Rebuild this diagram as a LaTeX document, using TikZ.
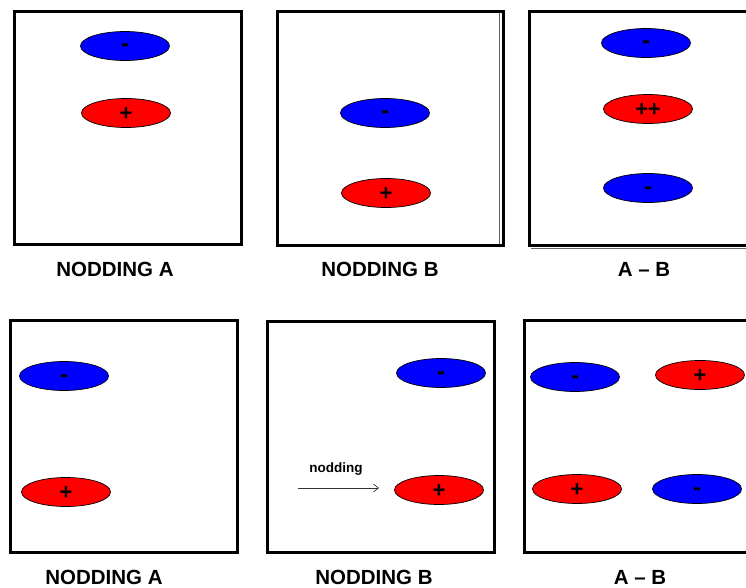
\documentclass[tikz,border=0pt]{standalone}
\usepackage{fontspec}
\setmainfont{Liberation Sans}
\usepackage{tikz}
\usepackage{xcolor}
\usetikzlibrary{shapes.geometric,arrows.meta}

\begin{document}
\begin{tikzpicture}[x=1pt,y=-1pt,
    negnode/.style={ellipse, draw=black, fill=blue, line width=0.7pt, minimum width=89pt, minimum height=29pt, inner sep=0pt, text height=12pt, text depth=0pt, font=\fontsize{24}{24}\selectfont\bfseries},
    posnode/.style={ellipse, draw=black, fill=red, line width=0.7pt, minimum width=89pt, minimum height=29pt, inner sep=0pt, text height=15.2pt, text depth=0pt, font=\fontsize{22}{22}\selectfont\bfseries},
    frame/.style={draw=black, line width=3pt},
    lbl/.style={font=\fontsize{20.5}{24}\selectfont\bfseries}]
            \useasboundingbox (0,0) rectangle (746,588);
            \clip (0,0) rectangle (746,588);

            % top row
            \draw[frame] (14,12) rectangle (241,244);
            \draw[frame] (277,12) rectangle (503,245);
            \draw[black!60, line width=0.5pt] (499,13) -- (499,244);
            \draw[frame] (529,12) rectangle (760,245);
            \draw[black!60, line width=0.6pt] (531,248) -- (746,248);

            \node[negnode] (tA1) at (125,46) {-};
            \node[posnode] (tA2) at (126,113) {+};
            \node[negnode] (tB1) at (385,113) {-};
            \node[posnode] (tB2) at (386,193) {+};
            \node[negnode] (tC1) at (646,43) {-};
            \node[posnode] (tC2) at (648,109) {+\kern-0.5pt+};
            \node[negnode] (tC3) at (648,188) {-};

            \node[lbl] (labA1) at (115,269) {NODDING A};
            \node[lbl] (labB1) at (380,269) {NODDING B};
            \node[lbl] (labC1) at (644,269) {A -- B};

            % bottom row
            \draw[frame] (10,320) rectangle (237,552);
            \draw[frame] (267,321) rectangle (494,552);
            \draw[frame] (524,320) rectangle (760,552);

            \node[negnode] (bA1) at (64,376) {-};
            \node[posnode] (bA2) at (66,492) {+};
            \node[negnode] (bB1) at (441,373) {-};
            \node[posnode] (bB2) at (439,490) {+};
            \node[negnode] (bC1) at (575,377) {-};
            \node[posnode] (bC2) at (700,375) {+};
            \node[posnode] (bC3) at (577,489) {+};
            \node[negnode] (bC4) at (697,489) {-};

            \coordinate (nodS) at (298,488);
            \coordinate (nodE) at (379,488);
            \draw[-{Straight Barb[length=5pt,width=8pt]}, black!80, line width=0.7pt] (nodS) -- (nodE);
            \node[font=\fontsize{13.5}{15}\selectfont\bfseries] (nodT) at (336,469) {nodding};

            \node[lbl] (labA2) at (104,577) {NODDING A};
            \node[lbl] (labB2) at (374,577) {NODDING B};
            \node[lbl] (labC2) at (640,577) {A -- B};

        \end{tikzpicture}
\end{document}
